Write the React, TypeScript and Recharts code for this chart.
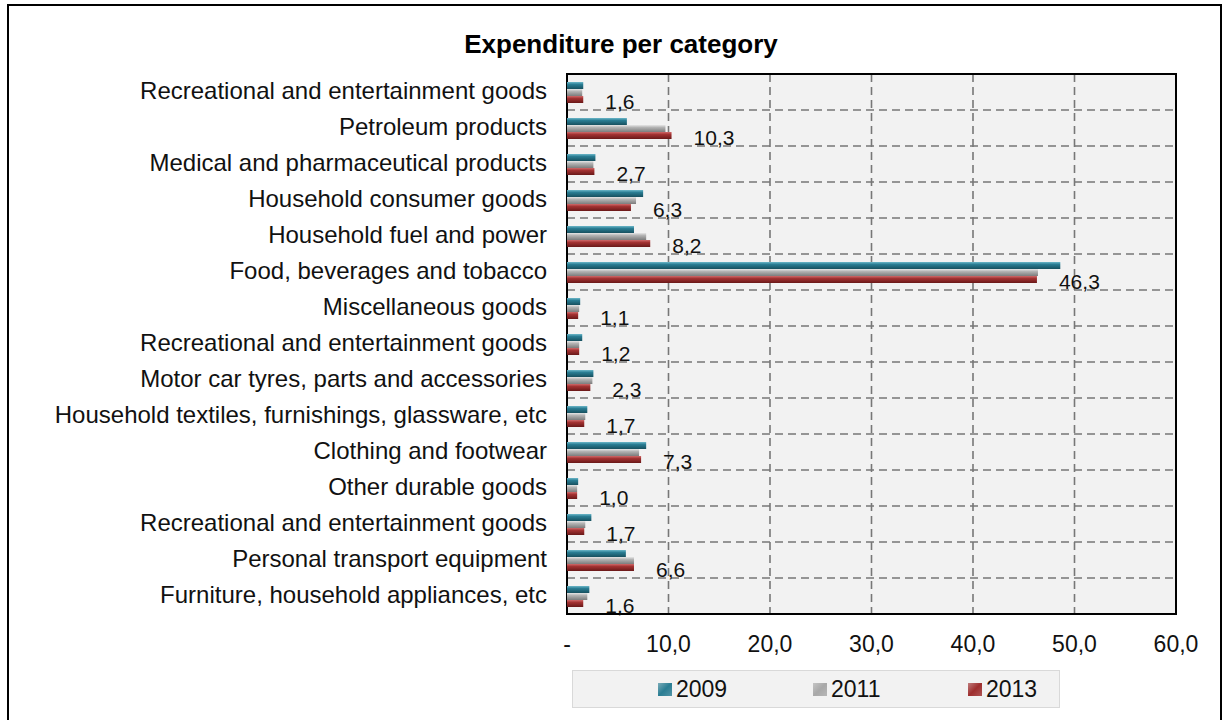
import React from "react"
import {
  Bar,
  BarChart,
  CartesianGrid,
  LabelList,
  ReferenceArea,
  XAxis,
  YAxis,
} from "recharts"

const categories = [
  "Recreational and entertainment goods",
  "Petroleum products",
  "Medical and pharmaceutical products",
  "Household consumer goods",
  "Household fuel and power",
  "Food, beverages and tobacco",
  "Miscellaneous goods",
  "Recreational and entertainment goods",
  "Motor car tyres, parts and accessories",
  "Household textiles, furnishings, glassware, etc",
  "Clothing and footwear",
  "Other durable goods",
  "Recreational and entertainment goods",
  "Personal transport equipment",
  "Furniture, household appliances, etc",
]

const values2009 = [1.6, 5.9, 2.8, 7.5, 6.6, 48.6, 1.3, 1.5, 2.6, 2.0, 7.8, 1.1, 2.4, 5.8, 2.2]
const values2011 = [1.5, 9.7, 2.6, 6.8, 7.8, 46.4, 1.2, 1.2, 2.5, 1.8, 7.1, 1.0, 1.8, 6.6, 2.0]
const values2013 = [1.6, 10.3, 2.7, 6.3, 8.2, 46.3, 1.1, 1.2, 2.3, 1.7, 7.3, 1.0, 1.7, 6.6, 1.6]

const xTicks = [0, 10, 20, 30, 40, 50, 60]
const years = ["2009", "2011", "2013"]

const data = categories.map((name, i) => ({
  key: `c${i}`,
  name,
  y2009: values2009[i],
  y2011: values2011[i],
  y2013: values2013[i],
}))

const FONT = '"Liberation Sans", Arial, Helvetica, sans-serif'

const comma = (v: number) => v.toFixed(1).replace(".", ",")

const gradients = [
  { id: "g2009", stops: ["#6cb7c9", "#2a7d93", "#17505f"] },
  { id: "g2011", stops: ["#e6e6e6", "#b3b3b3", "#7c7c7c"] },
  { id: "g2013", stops: ["#d06a6a", "#a33232", "#691818"] },
]

const legendColors = ["#2a7d93", "#a8a8a8", "#9e2e2e"]

function ValueLabel(props: any) {
  const { x, y, width, height, value } = props
  return (
    <text
      x={x + width + 22}
      y={y + height / 2 + 9}
      fontSize={21}
      fontFamily={FONT}
      fill="#111"
    >
      {comma(value)}
    </text>
  )
}

function CategoryTick(props: any) {
  const { x, y, payload } = props
  return (
    <text
      x={x}
      y={y}
      dy="0.3em"
      textAnchor="end"
      fontSize={24}
      fontFamily={FONT}
      fill="#111"
    >
      {categories[payload.index] ?? ""}
    </text>
  )
}

export default function App() {
  const n = categories.length
  return (
    <div
      style={{
        position: "absolute",
        left: 0,
        top: 0,
        width: 1229,
        height: 720,
        overflow: "hidden",
        background: "#fff",
        fontFamily: FONT,
      }}
    >
      <div
        style={{
          position: "absolute",
          left: 7,
          top: 4,
          width: 1215,
          height: 740,
          border: "2px solid #000",
          boxSizing: "border-box",
        }}
      />
      <div
        style={{
          position: "absolute",
          left: 0,
          width: 1242,
          top: 29,
          textAlign: "center",
          fontWeight: "bold",
          fontSize: 26,
          color: "#000",
        }}
      >
        Expenditure per category
      </div>
      <div style={{ position: "absolute", left: 0, top: 0 }}>
        <BarChart
          width={1229}
          height={720}
          data={data}
          layout="vertical"
          margin={{ top: 74, right: 53, left: 0, bottom: 66 }}
          barGap={0}
        >
          <defs>
            {gradients.map((g) => (
              <linearGradient key={g.id} id={g.id} x1="0" y1="0" x2="0" y2="1">
                <stop offset="0%" stopColor={g.stops[0]} />
                <stop offset="35%" stopColor={g.stops[1]} />
                <stop offset="100%" stopColor={g.stops[2]} />
              </linearGradient>
            ))}
          </defs>
          <CartesianGrid
            fill="#f2f2f2"
            stroke="#777"
            strokeWidth={1.6}
            strokeDasharray="8 5"
            horizontalCoordinatesGenerator={({ offset }: any) =>
              Array.from({ length: n - 1 }, (_, i) => offset.top + ((i + 1) * offset.height) / n)
            }
          />
          <XAxis
            type="number"
            domain={[0, 60]}
            ticks={xTicks}
            tickFormatter={(v: number) => (v === 0 ? "-" : comma(v))}
            axisLine={false}
            tickLine={false}
            tickSize={0}
            tickMargin={22}
            height={40}
            interval={0}
            tick={{ fontSize: 23, fill: "#111", fontFamily: FONT }}
          />
          <YAxis
            type="category"
            dataKey="key"
            width={567}
            axisLine={false}
            tickLine={false}
            tickSize={0}
            tickMargin={20}
            interval={0}
            tick={<CategoryTick />}
          />
          <Bar dataKey="y2009" fill="url(#g2009)" barSize={7} isAnimationActive={false} />
          <Bar dataKey="y2011" fill="url(#g2011)" barSize={7} isAnimationActive={false} />
          <Bar dataKey="y2013" fill="url(#g2013)" barSize={7} isAnimationActive={false}>
            <LabelList dataKey="y2013" content={<ValueLabel />} />
          </Bar>
          <ReferenceArea
            x1={0}
            x2={60}
            fill="none"
            fillOpacity={0}
            stroke="#000"
            strokeWidth={2}
            ifOverflow="visible"
          />
        </BarChart>
      </div>
      <div
        style={{
          position: "absolute",
          left: 572,
          top: 670,
          width: 488,
          height: 38,
          boxSizing: "border-box",
          background: "#f2f2f2",
          border: "1px solid #d9d9d9",
        }}
      >
        {years.map((yr, i) => (
          <div
            key={yr}
            style={{
              position: "absolute",
              left: 85 + i * 155,
              top: 5,
              display: "flex",
              alignItems: "center",
              fontSize: 23,
              color: "#111",
              lineHeight: "26px",
            }}
          >
            <span
              style={{
                display: "inline-block",
                width: 14,
                height: 13,
                marginRight: 4,
                background: `linear-gradient(135deg, ${legendColors[i]}99, ${legendColors[i]} 50%, ${legendColors[i]}cc)`,
              }}
            />
            {yr}
          </div>
        ))}
      </div>
    </div>
  )
}
